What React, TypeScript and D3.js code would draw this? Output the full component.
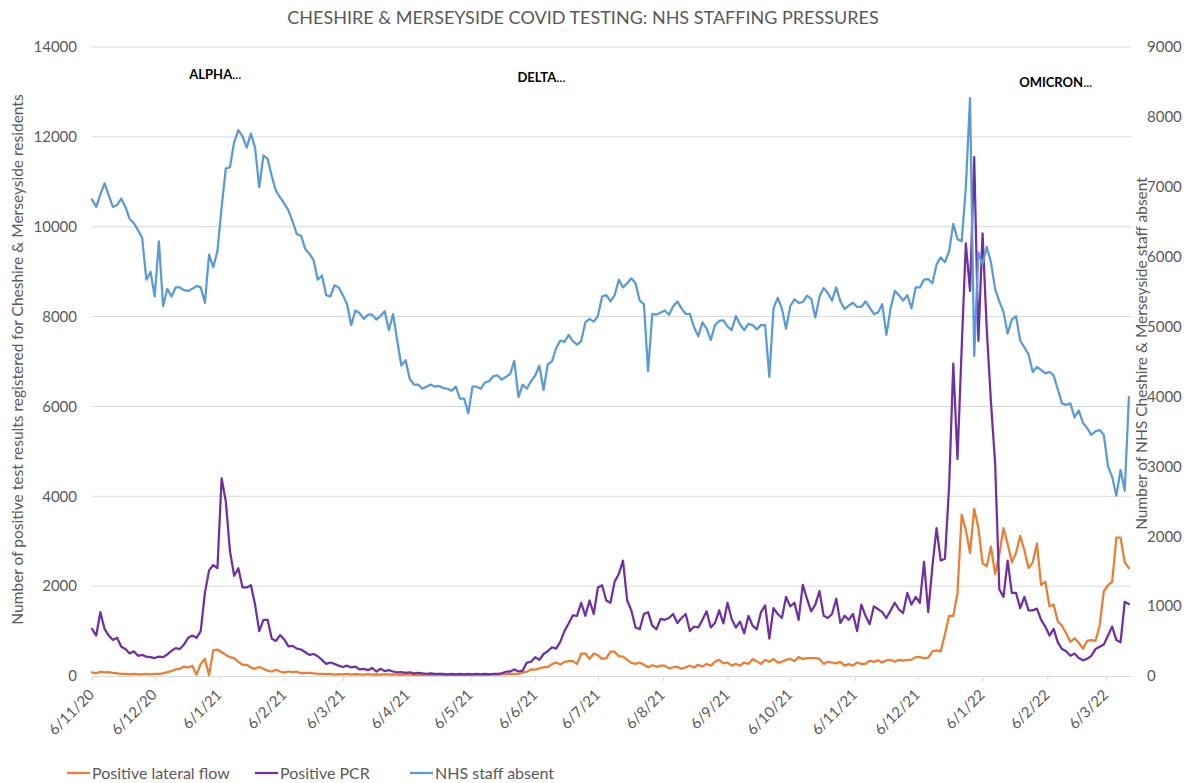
import React, { useEffect, useRef } from 'react'
import * as d3 from 'd3'

// first day of the series and spacing between readings
const START_DATE = '6/11/20'
const STEP_DAYS = 2

const xTickLabels = [
  '6/11/20', '6/12/20', '6/1/21', '6/2/21', '6/3/21', '6/4/21', '6/5/21', '6/6/21', '6/7/21',
  '6/8/21', '6/9/21', '6/10/21', '6/11/21', '6/12/21', '6/1/22', '6/2/22', '6/3/22'
]

const leftTicks = [0, 2000, 4000, 6000, 8000, 10000, 12000, 14000]
const rightTicks = [0, 1000, 2000, 3000, 4000, 5000, 6000, 7000, 8000, 9000]

// Positive lateral flow (left axis)
const lateralFlow = [
  80, 60, 95, 80, 85, 70, 60, 50, 45, 35,
  45, 35, 35, 45, 35, 45, 45, 60, 85, 110,
  145, 160, 210, 190, 230, 30, 270, 380, 20, 570,
  590, 530, 470, 420, 400, 315, 250, 250, 190, 160,
  200, 160, 120, 100, 140, 100, 75, 100, 85, 95,
  60, 70, 70, 60, 50, 45, 40, 45, 30, 40,
  35, 45, 30, 40, 35, 30, 40, 30, 35, 30,
  40, 30, 35, 30, 25, 35, 30, 25, 30, 25,
  30, 25, 30, 25, 30, 25, 30, 25, 30, 25,
  30, 25, 30, 30, 25, 30, 35, 30, 35, 40,
  45, 50, 45, 75, 95, 145, 140, 170, 195, 200,
  265, 300, 255, 315, 330, 330, 270, 500, 500, 380,
  500, 460, 380, 400, 540, 540, 440, 430, 360, 290,
  270, 300, 250, 195, 240, 205, 230, 230, 170, 195,
  205, 160, 195, 230, 190, 250, 210, 270, 230, 315,
  360, 280, 300, 230, 270, 230, 300, 270, 380, 330,
  270, 360, 315, 380, 300, 315, 360, 380, 330, 420,
  380, 400, 400, 400, 380, 270, 315, 300, 280, 315,
  230, 265, 230, 300, 270, 270, 340, 315, 350, 300,
  350, 360, 315, 360, 340, 360, 365, 420, 420, 400,
  410, 550, 570, 550, 930, 1340, 1340, 1850, 3590, 3250,
  2740, 3720, 3290, 2510, 2440, 2880, 2270, 2700, 3290, 2940,
  2530, 2740, 3120, 2800, 2400, 2530, 2950, 2020, 2100, 1550,
  1590, 1210, 1120, 950, 760, 840, 740, 610, 780, 800,
  780, 1120, 1890, 2020, 2100, 3080, 3080, 2530, 2400
]

// Positive PCR (left axis)
const pcr = [
  1050, 900, 1420, 1050, 900, 800, 850, 650, 600, 500,
  550, 450, 470, 430, 420, 400, 430, 420, 480, 560,
  620, 600, 700, 850, 900, 850, 1000, 1850, 2350, 2470,
  2400, 4400, 3890, 2780, 2230, 2400, 1970, 1970, 2020, 1590,
  1000, 1250, 1250, 830, 780, 910, 810, 660, 670, 610,
  590, 530, 470, 490, 440, 360, 270, 300, 270, 230,
  200, 230, 190, 210, 145, 160, 130, 180, 100, 160,
  110, 130, 100, 80, 85, 70, 80, 60, 70, 60,
  50, 60, 45, 50, 45, 35, 45, 35, 45, 35,
  45, 35, 45, 35, 45, 35, 50, 45, 60, 95,
  100, 145, 100, 120, 300, 315, 420, 360, 490, 550,
  640, 610, 760, 1000, 1170, 1350, 1340, 1630, 1340, 1680,
  1380, 1970, 2020, 1680, 1630, 2100, 2270, 2570, 1680, 1460,
  1080, 1040, 1380, 1420, 1120, 1040, 1270, 1250, 1290, 1380,
  1180, 1290, 1380, 1000, 1100, 1080, 1250, 1440, 1080, 1180,
  1460, 1170, 1630, 1270, 1080, 1210, 950, 1340, 1120, 1040,
  1420, 1570, 830, 1510, 1380, 1290, 1760, 1550, 1630, 1250,
  2030, 1720, 1440, 1590, 1890, 1340, 1290, 1380, 1720, 1180,
  1340, 1250, 1380, 1000, 1590, 1340, 1150, 1550, 1490, 1420,
  1290, 1460, 1630, 1480, 1400, 1850, 1590, 1760, 1630, 2540,
  1420, 2440, 3290, 2570, 2610, 4230, 6950, 4830, 7290, 9630,
  8570, 11550, 7460, 9850, 7720, 6100, 4740, 1930, 1760, 2570,
  1850, 1850, 1510, 1760, 1460, 1460, 1500, 1250, 1100, 900,
  1050, 750, 600, 550, 450, 500, 400, 350, 380, 450,
  600, 650, 700, 900, 1100, 800, 750, 1650, 1600
]

// NHS staff absent (right axis)
const staffAbsent = [
  6820, 6710, 6890, 7050, 6880, 6710, 6740, 6830, 6710, 6540,
  6480, 6380, 6270, 5670, 5780, 5430, 6220, 5290, 5540, 5430,
  5560, 5560, 5520, 5510, 5540, 5580, 5560, 5340, 6030, 5850,
  6080, 6710, 7260, 7280, 7640, 7810, 7720, 7560, 7760, 7560,
  6990, 7450, 7400, 7150, 6940, 6850, 6760, 6660, 6500, 6320,
  6300, 6110, 6040, 5950, 5670, 5730, 5450, 5430, 5590, 5560,
  5450, 5320, 5020, 5230, 5190, 5110, 5170, 5170, 5100, 5150,
  5220, 4950, 5180, 4800, 4440, 4520, 4250, 4170, 4170, 4110,
  4140, 4170, 4140, 4150, 4120, 4110, 4080, 4140, 3970, 3970,
  3760, 4140, 4140, 4110, 4200, 4220, 4290, 4300, 4240, 4280,
  4320, 4510, 3990, 4170, 4110, 4220, 4300, 4440, 4090, 4460,
  4500, 4690, 4800, 4780, 4880, 4790, 4740, 4790, 5060, 5110,
  5070, 5150, 5430, 5450, 5360, 5450, 5670, 5560, 5620, 5690,
  5620, 5370, 5320, 4360, 5180, 5170, 5200, 5230, 5170, 5290,
  5360, 5260, 5180, 5180, 4990, 4860, 5060, 4970, 4810, 5020,
  5080, 5090, 5000, 4950, 5150, 5030, 4950, 5040, 5020, 4960,
  5020, 5020, 4280, 5260, 5410, 5260, 4970, 5290, 5390, 5340,
  5350, 5440, 5400, 5130, 5430, 5550, 5480, 5370, 5560, 5360,
  5250, 5300, 5340, 5280, 5280, 5360, 5270, 5180, 5200, 5320,
  4880, 5260, 5510, 5450, 5370, 5450, 5260, 5560, 5560, 5670,
  5680, 5620, 5890, 5990, 5920, 6080, 6470, 6250, 6220, 6990,
  8270, 4580, 6060, 5890, 6140, 5920, 5540, 5360, 5210, 4900,
  5100, 5150, 4800, 4700, 4600, 4350, 4420, 4380, 4330, 4350,
  4300, 4100, 3900, 3880, 3900, 3700, 3800, 3620, 3550, 3450,
  3500, 3520, 3450, 3000, 2850, 2580, 2950, 2650, 3990
]

// variant wave labels
const waveLabels = ['ALPHA', 'DELTA', 'OMICRON']
const waveDates = ['4/1/21', '9/6/21', '10/2/22']
const waveValues = [13400, 13330, 13220]

const seriesNames = ['Positive lateral flow', 'Positive PCR', 'NHS staff absent']
const seriesColors = ['#ED7D31', '#7030A0', '#5B9BD5']

const FONT = 'Lato, "Liberation Sans", sans-serif'
const GREY = '#595959'

const App: React.FC = () => {
  const svgRef = useRef<SVGSVGElement>(null)
  const width = 1192
  const height = 783

  useEffect(() => {
    document.body.style.margin = '0'
    const svg = d3.select(svgRef.current)
    svg.selectAll('*').remove()

    const margin = { top: 47, right: 61, bottom: 107, left: 92 }
    const innerWidth = width - margin.left - margin.right
    const innerHeight = height - margin.top - margin.bottom

    const parse = d3.timeParse('%d/%m/%y')
    const start = parse(START_DATE) as Date
    const dates = staffAbsent.map((_, i) => d3.timeDay.offset(start, i * STEP_DAYS))

    const x = d3.scaleTime()
      .domain([start, d3.timeDay.offset(start, 497)])
      .range([0, innerWidth])
    const yLeft = d3.scaleLinear().domain([0, 14000]).range([innerHeight, 0])
    const yRight = d3.scaleLinear().domain([0, 9000]).range([innerHeight, 0])

    svg.attr('width', width).attr('height', height)
      .style('font-family', FONT)

    // 标题
    svg.append('text')
      .attr('x', 583)
      .attr('y', 24)
      .attr('text-anchor', 'middle')
      .attr('font-size', '18px')
      .attr('fill', GREY)
      .text('CHESHIRE & MERSEYSIDE COVID TESTING: NHS STAFFING PRESSURES')

    const g = svg.append('g')
      .attr('transform', `translate(${margin.left},${margin.top})`)

    // gridlines
    g.selectAll('.grid')
      .data(leftTicks.slice(1))
      .enter()
      .append('line')
      .attr('x1', 0)
      .attr('x2', innerWidth)
      .attr('y1', d => yLeft(d))
      .attr('y2', d => yLeft(d))
      .attr('stroke', '#d9d9d9')
      .attr('stroke-width', 1)

    // x axis
    const tickDates = xTickLabels.map(s => parse(s) as Date)
    const xAxis = g.append('g')
      .attr('transform', `translate(0,${innerHeight})`)
      .call(d3.axisBottom(x)
        .tickValues(tickDates)
        .tickSize(5)
        .tickSizeOuter(0)
        .tickFormat((d, i) => xTickLabels[i]))
    xAxis.select('.domain').attr('stroke', '#d9d9d9')
    xAxis.selectAll('.tick line').attr('stroke', '#d9d9d9')
    xAxis.selectAll('.tick text')
      .attr('x', 0)
      .attr('y', 0)
      .attr('dy', '0.35em')
      .attr('transform', 'translate(-1,16) rotate(-45)')
      .attr('text-anchor', 'end')
      .attr('font-size', '15px')
      .attr('font-family', FONT)
      .attr('fill', GREY)

    // left axis
    const leftAxis = g.append('g')
      .call(d3.axisLeft(yLeft).tickValues(leftTicks).tickSize(0).tickPadding(15)
        .tickFormat(d3.format('d')))
    leftAxis.select('.domain').remove()
    leftAxis.selectAll('.tick text')
      .attr('font-size', '15px')
      .attr('font-family', FONT)
      .attr('fill', GREY)

    // right axis
    const rightAxis = g.append('g')
      .attr('transform', `translate(${innerWidth},0)`)
      .call(d3.axisRight(yRight).tickValues(rightTicks).tickSize(0).tickPadding(16)
        .tickFormat(d3.format('d')))
    rightAxis.select('.domain').remove()
    rightAxis.selectAll('.tick text')
      .attr('font-size', '15px')
      .attr('font-family', FONT)
      .attr('fill', GREY)

    // axis titles
    svg.append('text')
      .attr('transform', `translate(23,${margin.top + innerHeight / 2 - 2}) rotate(-90)`)
      .attr('text-anchor', 'middle')
      .attr('font-size', '15.5px')
      .attr('fill', GREY)
      .text('Number of positive test results registered for Cheshire & Merseyside residents')

    svg.append('text')
      .attr('transform', `translate(1147,${margin.top + innerHeight / 2 - 8}) rotate(-90)`)
      .attr('text-anchor', 'middle')
      .attr('font-size', '15.5px')
      .attr('fill', GREY)
      .text('Number of NHS Cheshire & Merseyside staff absent')

    // series lines
    const leftLine = d3.line<number>()
      .x((_, i) => x(dates[i]))
      .y(d => yLeft(d))
    const rightLine = d3.line<number>()
      .x((_, i) => x(dates[i]))
      .y(d => yRight(d))

    const seriesPaths = [
      { data: lateralFlow, line: leftLine },
      { data: pcr, line: leftLine },
      { data: staffAbsent, line: rightLine }
    ]
    seriesPaths.forEach((s, i) => {
      g.append('path')
        .datum(s.data)
        .attr('fill', 'none')
        .attr('stroke', seriesColors[i])
        .attr('stroke-width', 2.25)
        .attr('stroke-linejoin', 'round')
        .attr('stroke-linecap', 'round')
        .attr('d', s.line)
    })

    // wave labels
    waveLabels.forEach((label, i) => {
      const t = g.append('text')
        .attr('x', x(parse(waveDates[i]) as Date))
        .attr('y', yLeft(waveValues[i]))
        .attr('dy', '0.35em')
        .attr('text-anchor', 'middle')
        .attr('font-size', '13px')
        .attr('fill', '#000')
      t.append('tspan').attr('font-weight', 'bold').text(label)
      t.append('tspan').text('...')
    })

    // legend
    const legendX = [67, 255, 410]
    const legend = svg.append('g').attr('transform', 'translate(0,773)')
    seriesNames.forEach((name, i) => {
      legend.append('line')
        .attr('x1', legendX[i])
        .attr('x2', legendX[i] + 23)
        .attr('y1', 0)
        .attr('y2', 0)
        .attr('stroke', seriesColors[i])
        .attr('stroke-width', 2.25)
      legend.append('text')
        .attr('x', legendX[i] + 25)
        .attr('y', 0)
        .attr('dy', '0.35em')
        .attr('font-size', '16px')
        .attr('fill', GREY)
        .text(name)
    })
  }, [])

  return <svg ref={svgRef} style={{ display: 'block' }}></svg>
}

export default App
